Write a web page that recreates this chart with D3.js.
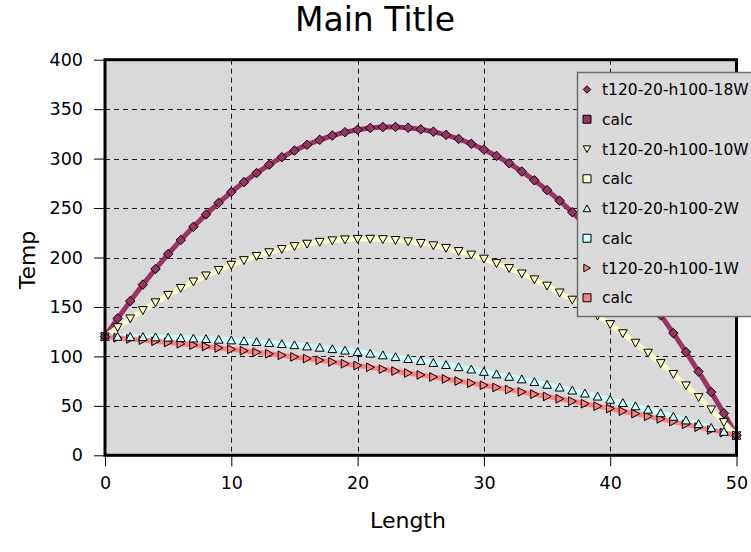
<!DOCTYPE html>
<html>
<head>
<meta charset="utf-8">
<script src="https://cdn.jsdelivr.net/npm/d3@7"></script>
<style>
  html, body { margin: 0; padding: 0; background: #fff; }
  svg { display: block; font-family: "DejaVu Sans", Verdana, sans-serif; }
</style>
</head>
<body>
<svg id="chart" width="751" height="552"></svg>
<script>
// Position along the part (x axis)
const lengths = [0,1,2,3,4,5,6,7,8,9,10,11,12,13,14,15,16,17,18,19,20,21,22,23,24,25,
  26,27,28,29,30,31,32,33,34,35,36,37,38,39,40,41,42,43,44,45,46,47,48,49,50];

// Temperature profiles, one value per position
const temp18W = [120,138.4,155.9,172.6,188.4,203.5,217.7,231.0,243.6,255.3,266.2,276.2,285.4,293.8,
  301.4,308.1,314.0,319.0,323.3,326.7,329.2,331.0,331.9,332.0,331.2,329.6,327.2,324.0,319.9,315.0,
  309.2,302.7,295.3,287.0,278.0,268.1,257.4,245.8,233.4,220.2,206.2,191.3,175.6,159.0,141.7,123.5,
  104.4,84.6,63.9,42.4,20];
const temp10W = [120,129.3,138.2,146.6,154.5,162.0,169.0,175.5,181.6,187.2,192.4,197.1,201.3,205.1,
  208.4,211.3,213.7,215.6,217.1,218.1,218.6,218.7,218.3,217.5,216.1,214.4,212.1,209.5,206.3,202.7,
  198.6,194.1,189.1,183.6,177.7,171.3,164.4,157.1,149.3,141.1,132.4,123.2,113.6,103.5,93.0,82.0,
  70.5,58.6,46.2,33.3,20];
const temp2W = [120,120.0,119.9,119.8,119.5,119.2,118.8,118.3,117.8,117.1,116.4,115.6,114.7,113.7,
  112.7,111.5,110.3,109.0,107.6,106.1,104.6,103.0,101.3,99.5,97.6,95.6,93.6,91.5,89.3,87.0,
  84.6,82.1,79.6,77.0,74.3,71.5,68.7,65.7,62.7,59.6,56.4,53.1,49.8,46.3,42.8,39.2,
  35.5,31.8,27.9,24.0,20];
const temp1W = [120,118.9,117.7,116.5,115.3,114.1,112.8,111.4,110.0,108.6,107.2,105.7,104.2,102.7,
  101.1,99.5,97.8,96.1,94.4,92.6,90.8,89.0,87.1,85.2,83.2,81.3,79.2,77.2,75.1,73.0,
  70.8,68.6,66.4,64.1,61.8,59.5,57.1,54.7,52.2,49.7,47.2,44.6,42.1,39.4,36.8,34.1,
  31.3,28.5,25.7,22.9,20];

const seriesNames = ["t120-20-h100-18W", "t120-20-h100-10W", "t120-20-h100-2W", "t120-20-h100-1W"];
const calcName = "calc";
const xTickValues = [0, 10, 20, 30, 40, 50];
const yTickValues = [0, 50, 100, 150, 200, 250, 300, 350, 400];

// Custom marker shapes, centred on the data point
const diamond = { draw(ctx, size) { const r = Math.sqrt(size) / 2; ctx.moveTo(0, -r); ctx.lineTo(r, 0); ctx.lineTo(0, r); ctx.lineTo(-r, 0); ctx.closePath(); } };
const triDown = { draw(ctx, size) { const r = Math.sqrt(size) / 2; ctx.moveTo(-r, -r * 0.85); ctx.lineTo(r, -r * 0.85); ctx.lineTo(0, r * 0.95); ctx.closePath(); } };
const triUp   = { draw(ctx, size) { const r = Math.sqrt(size) / 2; ctx.moveTo(-r, r * 0.85); ctx.lineTo(r, r * 0.85); ctx.lineTo(0, -r * 0.95); ctx.closePath(); } };
const triRight= { draw(ctx, size) { const r = Math.sqrt(size) / 2; ctx.moveTo(-r * 0.85, -r); ctx.lineTo(-r * 0.85, r); ctx.lineTo(r * 0.95, 0); ctx.closePath(); } };

const series = [
  { name: seriesNames[0], values: temp18W, color: "#993366", marker: diamond,  size: 90 },
  { name: seriesNames[1], values: temp10W, color: "#ffffcc", marker: triDown,  size: 76 },
  { name: seriesNames[2], values: temp2W,  color: "#ccffff", marker: triUp,    size: 76 },
  { name: seriesNames[3], values: temp1W,  color: "#ff8080", marker: triRight, size: 76 }
];

const svg = d3.select("#chart");
const plot = { left: 105, right: 736.5, top: 59.7, bottom: 455.3 };

const x = d3.scaleLinear().domain([0, 50]).range([plot.left, plot.right]);
const y = d3.scaleLinear().domain([0, 400]).range([plot.bottom, plot.top]);

// Title
svg.append("text")
  .attr("x", 375).attr("y", 31)
  .attr("text-anchor", "middle")
  .attr("font-size", 33)
  .attr("fill", "#000")
  .text("Main Title");

// Plot background
svg.append("rect")
  .attr("x", plot.left).attr("y", plot.top)
  .attr("width", plot.right - plot.left).attr("height", plot.bottom - plot.top)
  .attr("fill", "#d9d9d9");

// Dashed grid
const grid = svg.append("g").attr("stroke", "#1a1a1a").attr("stroke-width", 1).attr("stroke-dasharray", "5,4");
grid.selectAll("line.h").data(yTickValues.filter(v => v > 0 && v < 400)).join("line")
  .attr("x1", plot.left).attr("x2", plot.right)
  .attr("y1", d => Math.round(y(d)) + 0.5).attr("y2", d => Math.round(y(d)) + 0.5);
grid.selectAll("line.v").data(xTickValues.filter(v => v > 0 && v < 50)).join("line")
  .attr("y1", plot.top).attr("y2", plot.bottom)
  .attr("x1", d => Math.round(x(d)) + 0.5).attr("x2", d => Math.round(x(d)) + 0.5);

// Axes
const yAxis = d3.axisLeft(y).tickValues(yTickValues).tickSize(11).tickPadding(11);
const xAxis = d3.axisBottom(x).tickValues(xTickValues).tickSize(11).tickPadding(10);

const gy = svg.append("g").attr("transform", `translate(${plot.left},0)`).call(yAxis);
const gx = svg.append("g").attr("transform", `translate(0,${plot.bottom})`).call(xAxis);
[gx, gy].forEach(g => {
  g.select(".domain").remove();
  g.selectAll(".tick line").attr("stroke", "#000");
  g.selectAll(".tick text").attr("font-size", 17.5).attr("fill", "#000")
    .attr("font-family", "\"DejaVu Sans\", Verdana, sans-serif");
});

// Calculated curves (thick lines)
const line = d3.line().x((d, i) => x(lengths[i])).y(d => y(d));
svg.append("g").selectAll("path").data(series).join("path")
  .attr("d", s => line(s.values))
  .attr("fill", "none")
  .attr("stroke", s => s.color)
  .attr("stroke-width", 5)
  .attr("stroke-linejoin", "round");

// Measured points
const markerGroups = svg.append("g").selectAll("g").data(series.slice().reverse()).join("g");
markerGroups.selectAll("path").data(s => s.values.map((v, i) => ({ v, i, s }))).join("path")
  .attr("transform", d => `translate(${x(lengths[d.i])},${y(d.v)})`)
  .attr("d", d => d3.symbol().type(d.s.marker).size(d.s.size)())
  .attr("fill", d => d.s.color)
  .attr("stroke", "#000")
  .attr("stroke-width", 1);

// Plot frame
svg.append("rect")
  .attr("x", plot.left).attr("y", plot.top)
  .attr("width", plot.right - plot.left).attr("height", plot.bottom - plot.top)
  .attr("fill", "none").attr("stroke", "#000").attr("stroke-width", 3);

// Axis titles
svg.append("text")
  .attr("x", 408).attr("y", 528)
  .attr("text-anchor", "middle")
  .attr("font-size", 22)
  .text("Length");
svg.append("text")
  .attr("transform", "translate(35,260) rotate(-90)")
  .attr("text-anchor", "middle")
  .attr("font-size", 22)
  .text("Temp");

// Legend
const legend = svg.append("g");
legend.append("rect")
  .attr("x", 577.5).attr("y", 72.5).attr("width", 200).attr("height", 244)
  .attr("fill", "#dadada").attr("stroke", "#6e6e6e").attr("stroke-width", 1.5);

const legendItems = [];
series.forEach(s => {
  legendItems.push({ label: s.name, color: s.color, marker: s.marker, size: 56 });
  legendItems.push({ label: calcName, color: s.color, marker: d3.symbolSquare, size: 64 });
});
const rows = legend.selectAll("g.item").data(legendItems).join("g")
  .attr("transform", (d, i) => `translate(587,${89.5 + i * 29.75})`);
rows.append("path")
  .attr("d", d => d3.symbol().type(d.marker).size(d.size)())
  .attr("fill", d => d.color).attr("stroke", "#000").attr("stroke-width", 1);
rows.append("text")
  .attr("x", 15).attr("y", 5.6)
  .attr("font-size", 15.5)
  .attr("fill", "#000")
  .text(d => d.label);
</script>
</body>
</html>
